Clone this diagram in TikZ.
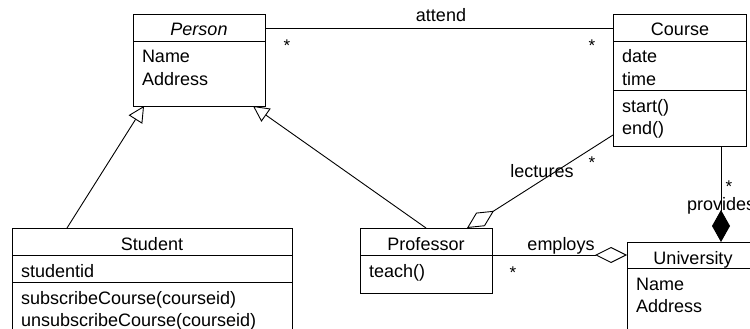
\documentclass[tikz,border=0pt]{standalone}
\usepackage{fontspec}
\setmainfont{Liberation Sans}
\usetikzlibrary{arrows.meta,calc}

\begin{document}
\begin{tikzpicture}[x=1pt,y=-1pt,
  line width=0.9pt,
  classbox/.style={draw, rectangle, inner sep=0pt, outer sep=0pt, anchor=north west},
  txt/.style={inner sep=0pt, outer sep=0pt, anchor=base west, font=\fontsize{18}{22}\selectfont},
  ctxt/.style={txt, anchor=base},
  mult/.style={txt, anchor=base, font=\fontsize{17}{20}\selectfont},
  generalization/.style={-{Triangle[open, length=16pt, width=16pt, line width=0.9pt]}},
  aggregation/.style={-{Diamond[open, length=32pt, width=16pt, line width=0.9pt]}},
  composition/.style={-{Diamond[length=32pt, width=18pt]}}]

\clip (0,0) rectangle (750,329);
\useasboundingbox (0,0) rectangle (750,329);

% class boxes
\node[classbox, minimum width=132pt, minimum height=92pt]  (person) at (133,14) {};
\node[classbox, minimum width=133pt, minimum height=132pt] (course) at (613,14) {};
\node[classbox, minimum width=280pt, minimum height=130pt] (student) at (12,228) {};
\node[classbox, minimum width=132pt, minimum height=65pt]  (prof) at (360,228) {};
\node[classbox, minimum width=133pt, minimum height=120pt] (univ) at (627,242) {};

% compartment separators
\draw ($(person.north west)+(0,27)$) -- ($(person.north east)+(0,27)$);
\draw ($(course.north west)+(0,27)$) -- ($(course.north east)+(0,27)$);
\draw ($(course.north west)+(0,76)$) -- ($(course.north east)+(0,76)$);
\draw ($(student.north west)+(0,27)$) -- ($(student.north east)+(0,27)$);
\draw ($(student.north west)+(0,54)$) -- ($(student.north east)+(0,54)$);
\draw ($(prof.north west)+(0,27)$) -- ($(prof.north east)+(0,27)$);
\draw ($(univ.north west)+(0,26)$) -- ($(univ.north east)+(0,26)$);

% Person
\node[ctxt, font=\fontsize{18}{22}\selectfont\itshape] (personname) at (199,36) {Person};
\node[txt] (personattr1) at (142,63) {Name};
\node[txt] (personattr2) at (142,85) {Address};

% Course
\node[ctxt] (coursename) at (680,36) {Course};
\node[txt] (courseattr1) at (622,63) {date};
\node[txt] (courseattr2) at (622,85) {time};
\node[txt] (courseop1) at (622,112) {start()};
\node[txt] (courseop2) at (622,134) {end()};

% Student
\node[ctxt] (studentname) at (152,250) {Student};
\node[txt] (studentattr) at (21,277) {studentid};
\node[txt] (studentop1) at (21,304) {subscribeCourse(courseid)};
\node[txt] (studentop2) at (21,326) {unsubscribeCourse(courseid)};

% Professor
\node[ctxt] (profname) at (426,250) {Professor};
\node[txt] (profop) at (369,277) {teach()};

% University
\node[ctxt] (univname) at (693,264) {University};
\node[txt] (univattr1) at (636,290) {Name};
\node[txt] (univattr2) at (636,312) {Address};

% attend
\draw ($(person.north east)+(0,14)$) -- ($(course.north west)+(0,14)$);
\node[ctxt] (attendlbl) at (441,22) {attend};
\node[mult] (attendm1) at (287,52) {*};
\node[mult] (attendm2) at (592,52) {*};

% lectures
\draw[aggregation] ($(course.north west)+(0,121)$) -- ($(prof.north west)+(107,0)$);
\node[ctxt] (lectureslbl) at (542,177) {lectures};
\node[mult] (lecturesm) at (592,168) {*};

% employs
\draw[aggregation] ($(prof.north east)+(0,27)$) -- ($(univ.north west)+(0,13)$);
\node[ctxt] (employslbl) at (561,250) {employs};
\node[mult] (employsm) at (513,278) {*};

% provides
\draw[composition] ($(course.south west)+(108,0)$) -- ($(univ.north west)+(94,0)$);
\node[txt] (provideslbl) at (687,210) {provides};
\node[mult] (providesm) at (729,192) {*};

% generalizations
\draw[generalization] ($(student.north west)+(55,0)$) -- ($(person.south west)+(11,0)$);
\draw[generalization] (prof.north) -- ($(person.south west)+(120,0)$);

\end{tikzpicture}
\end{document}
